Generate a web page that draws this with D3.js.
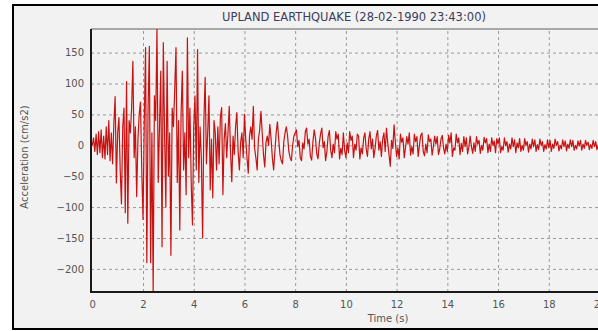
<!DOCTYPE html>
<html>
<head>
<meta charset="utf-8">
<script src="https://cdn.jsdelivr.net/npm/d3@7"></script>
<style>
  html, body { margin: 0; padding: 0; background: #ffffff; }
  svg { display: block; }
  text { font-family: "DejaVu Sans", Verdana, sans-serif; }
</style>
</head>
<body>
<svg id="chart" width="598" height="331"></svg>
<script>
// Ground acceleration record, sampled every 0.05 s from 0 to 20 s (cm/s2)
const sampleStep = 0.05;
const accel = [
  // 0 - 1 s
  0, 12, -10, 18, -15, 22, -12, 25, -20, 15, -22, 30, -15, 40, -25, 20, -30, 35, 79, -61,
  // 1 - 2 s
  20, 45, -40, -95, 30, 60, -109, 103, -126, 40, 20, 60, 136, -20, 30, -83, 10, 50, 70, -40,
  // 2 - 3 s
  -120, 40, 158, -190, 60, 160, -190, 20, -237, 80, 40, 188, -60, 30, 120, -164, 166, 20, -100, 136,
  // 3 - 4 s
  -50, 20, -178, 60, 30, 90, 158, -60, 40, -137, 50, 120, -40, 20, -80, 174, -20, 60, -60, -129,
  // 4 - 5 s
  30, 80, -40, 155, -60, 30, -20, -150, 40, 110, -30, 20, 80, -72, 10, -85, 40, 20, -40, 30,
  // 5 - 6 s
  -30, 45, 61, -80, 10, 35, -20, 20, 63, -10, -59, 15, -15, 30, 53, -10, -40, 5, 20, -20,
  // 6 - 7 s
  50, 10, -20, -45, 15, 30, 10, 63, -5, -20, -40, 10, 25, 55, 20, -15, -35, 5, 15, 0,
  // 7 - 8 s
  34, 10, -20, -40, -10, 20, 38, 10, -15, -25, -30, 5, 20, 30, 15, -10, -20, -25, 0, 15,
  // 8 - 9 s
  20, 25, -2, 8, -20, -25, 4, -6, 22, 28, 2, 10, -18, -24, 6, 25, 12, -14, -22, 3,
  // 9 - 10 s
  18, 28, -4, 6, -25, -10, 15, 24, -8, -20, 2, -12, 22, 10, 18, -22, -5, -15, 20, -8,
  // 10 - 11 s
  -20, 4, -12, 22, 8, 15, -20, 2, -8, 18, 15, -22, -4, -14, 12, 20, -6, -18, 10, 22,
  // 11 - 12 s
  -6, 10, -20, -5, 15, 24, -8, 6, -18, 10, 20, -10, 28, 4, -15, -34, 8, -5, 33, 5,
  // 12 - 13 s
  -18, -4, -22, 18, 5, 12, -20, -4, 14, 2, 20, -16, -2, -14, 18, 6, 14, -18, 0, 16,
  // 13 - 14 s
  20, -10, -17, 2, -12, 17, 6, 10, -16, -2, 15, 2, 14, -15, -6, 10, 16, -4, -14, 2,
  // 14 - 15 s
  -10, 16, 4, 20, -18, -4, -8, 18, 4, 12, -15, 3, -10, 14, -2, 12, -14, -2, 15, -2,
  // 15 - 16 s
  -13, 4, -10, 14, 2, 8, -13, 0, -8, 13, 4, 11, -12, 2, -10, 12, 0, 7, -12, 11,
  // 16 - 17 s
  2, 12, -12, -2, -8, 12, 0, 6, -11, 2, -6, 12, -2, 9, -12, 4, -4, 11, -10, 0,
  // 17 - 18 s
  -8, 11, 0, 6, -11, 2, -6, 10, -2, 9, -10, 1, -7, 10, 0, 6, -10, 1, -6, 9,
  // 18 - 19 s
  -4, 8, -10, 2, -5, 10, 0, 6, -9, 0, -6, 9, -2, 7, -9, 2, -5, 9, -2, 8,
  // 19 - 20 s
  -8, 0, -6, 7, -1, 8, -8, 2, -5, 8, 0, 5, -7, 1, -5, 8, -2, 6, -7, 0,
  6
];

const timeTicks = [0, 2, 4, 6, 8, 10, 12, 14, 16, 18, 20];
const accelTicks = [-200, -150, -100, -50, 0, 50, 100, 150];
const chartTitle = "UPLAND EARTHQUAKE (28-02-1990 23:43:00)";
const xTitle = "Time (s)";
const yTitle = "Acceleration (cm/s2)";

const svg = d3.select("#chart");
const W = 598, H = 331;

// Plot area
const plotLeft = 91, plotTop = 29, plotBottom = 292, plotRight = 598;

const x = d3.scaleLinear().domain([0, 20]).range([92.3, 599.5]);
const y = d3.scaleLinear().domain([-237.4, 188.2]).range([plotBottom, plotTop]);

// Panel background
svg.append("rect").attr("x", 13).attr("y", 5).attr("width", W - 13).attr("height", 324)
  .attr("fill", "#f2f2f2");

// Gridlines
const grid = svg.append("g").attr("class", "grid");
grid.append("g")
  .attr("transform", `translate(0,${plotBottom})`)
  .call(d3.axisBottom(x).tickValues(timeTicks.filter(d => d > 0)).tickSize(-(plotBottom - plotTop)).tickFormat(""))
  .call(g => g.select(".domain").remove());
grid.append("g")
  .attr("transform", `translate(${plotLeft},0)`)
  .call(d3.axisLeft(y).tickValues(accelTicks).tickSize(-(plotRight - plotLeft)).tickFormat(""))
  .call(g => g.select(".domain").remove());
grid.selectAll("line")
  .attr("stroke", "#9a9a9a")
  .attr("stroke-width", 1)
  .attr("stroke-dasharray", "3,3");

// Top border of the plot area
svg.append("line")
  .attr("x1", plotLeft).attr("x2", plotRight).attr("y1", plotTop).attr("y2", plotTop)
  .attr("stroke", "#a8a8a8").attr("stroke-width", 2);

// Trace
svg.append("clipPath").attr("id", "plotClip")
  .append("rect").attr("x", plotLeft).attr("y", plotTop)
  .attr("width", plotRight - plotLeft).attr("height", plotBottom - plotTop);

const line = d3.line()
  .x((d, i) => x(i * sampleStep))
  .y(d => y(d));

svg.append("path")
  .datum(accel)
  .attr("clip-path", "url(#plotClip)")
  .attr("fill", "none")
  .attr("stroke", "#c81212")
  .attr("stroke-width", 1.2)
  .attr("stroke-linejoin", "round")
  .attr("d", line);

// Axes
const xAxis = svg.append("g")
  .attr("transform", `translate(0,${plotBottom})`)
  .call(d3.axisBottom(x).tickValues(timeTicks).tickSize(0).tickPadding(9).tickFormat(d3.format("d")));
xAxis.select(".domain").remove();
xAxis.selectAll("text").attr("fill", "#555").attr("font-size", 10);

const yAxis = svg.append("g")
  .attr("transform", `translate(${plotLeft},0)`)
  .call(d3.axisLeft(y).tickValues(accelTicks).tickSize(0).tickPadding(7).tickFormat(d3.format("d")));
yAxis.select(".domain").remove();
yAxis.selectAll("text").attr("fill", "#555").attr("font-size", 10);

svg.append("line")
  .attr("x1", plotLeft).attr("x2", plotLeft).attr("y1", plotTop).attr("y2", plotBottom + 1)
  .attr("stroke", "#1a1a1a").attr("stroke-width", 2);
svg.append("line")
  .attr("x1", plotLeft).attr("x2", plotRight).attr("y1", plotBottom).attr("y2", plotBottom)
  .attr("stroke", "#1a1a1a").attr("stroke-width", 2);

// Titles
svg.append("text")
  .attr("x", 354).attr("y", 21)
  .attr("text-anchor", "middle")
  .attr("font-size", 11.5)
  .attr("fill", "#3a3d5c")
  .text(chartTitle);

svg.append("text")
  .attr("x", 388).attr("y", 322)
  .attr("text-anchor", "middle")
  .attr("font-size", 10)
  .attr("fill", "#555")
  .text(xTitle);

svg.append("text")
  .attr("transform", "translate(28,157) rotate(-90)")
  .attr("text-anchor", "middle")
  .attr("font-size", 10)
  .attr("fill", "#555")
  .text(yTitle);

// Outer frame
svg.append("path")
  .attr("d", `M${W},5 H13 V329 H${W}`)
  .attr("fill", "none")
  .attr("stroke", "#000")
  .attr("stroke-width", 2);
</script>
</body>
</html>
